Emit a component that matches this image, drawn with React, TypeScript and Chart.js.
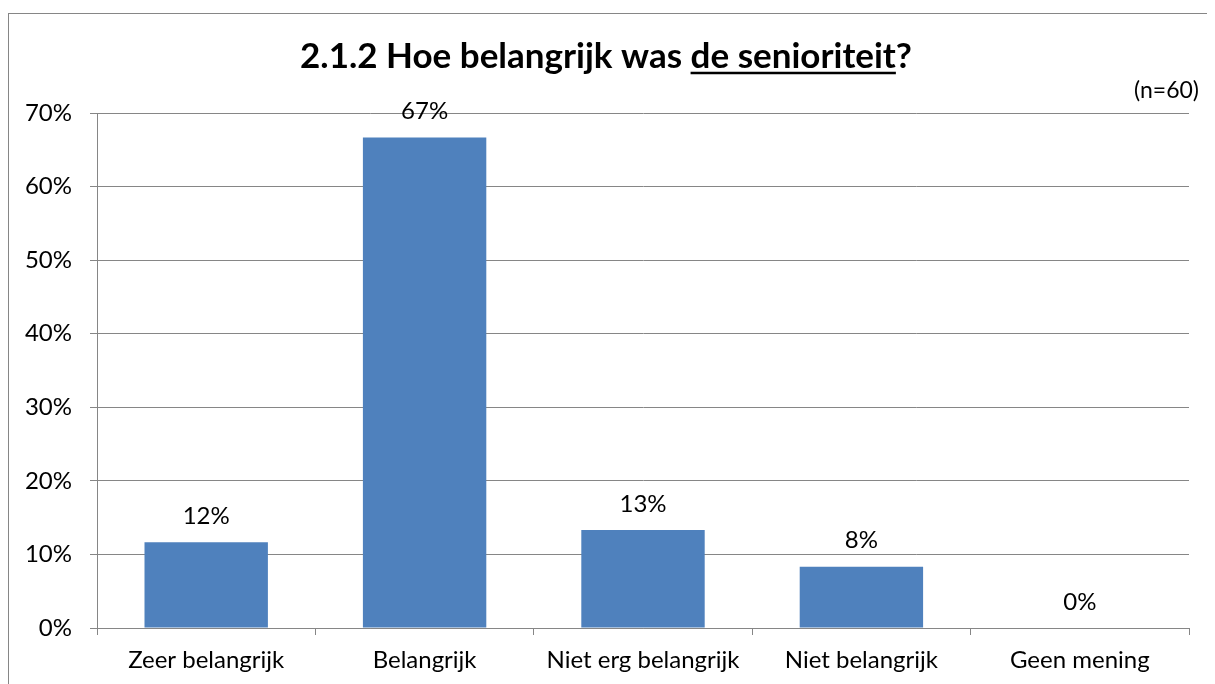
import React, { useEffect, useRef } from "react";
import { Chart, registerables } from "chart.js";

Chart.register(...registerables);

const categories = ["Zeer belangrijk", "Belangrijk", "Niet erg belangrijk", "Niet belangrijk", "Geen mening"];
const values = [11.67, 66.67, 13.33, 8.33, 0];
const valueLabels = ["12%", "67%", "13%", "8%", "0%"];
const yTicks = [0, 10, 20, 30, 40, 50, 60, 70];
const titleParts = ["2.1.2 Hoe belangrijk was ", "de senioriteit", "?"];
const sampleNote = "(n=60)";

const FONT = "Lato, 'Open Sans', sans-serif";
const GRID = "#868686";

const overlayPlugin = {
  id: "overlay",
  afterDatasetsDraw(chart: any) {
    const ctx = chart.ctx;
    const meta = chart.getDatasetMeta(0);
    ctx.save();
    ctx.fillStyle = "#000";
    ctx.font = `24px ${FONT}`;
    ctx.textAlign = "center";
    ctx.textBaseline = "middle";
    meta.data.forEach((bar: any, i: number) => {
      ctx.fillText(valueLabels[i], bar.x, bar.y - 26);
    });
    ctx.restore();
  },
  afterDraw(chart: any) {
    const ctx = chart.ctx;
    ctx.save();
    ctx.fillStyle = "#000";
    ctx.strokeStyle = "#000";
    ctx.font = `bold 35px ${FONT}`;
    ctx.textBaseline = "alphabetic";
    ctx.textAlign = "left";
    const widths = titleParts.map((t) => ctx.measureText(t).width);
    const total = widths.reduce((a, b) => a + b, 0);
    let x = chart.width / 2 - 6 - total / 2;
    const y = 54;
    titleParts.forEach((t, i) => {
      ctx.fillText(t, x, y);
      if (i === 1) {
        ctx.lineWidth = 2.5;
        ctx.beginPath();
        ctx.moveTo(x, y + 5);
        ctx.lineTo(x + widths[i], y + 5);
        ctx.stroke();
      }
      x += widths[i];
    });
    ctx.font = `23px ${FONT}`;
    ctx.textAlign = "right";
    ctx.textBaseline = "middle";
    ctx.fillText(sampleNote, chart.width - 16, 77);
    ctx.restore();
  },
};

export default function App() {
  const ref = useRef<HTMLCanvasElement | null>(null);
  useEffect(() => {
    if (!ref.current) return;
    const chart = new Chart(ref.current, {
      type: "bar",
      data: {
        labels: categories,
        datasets: [
          {
            data: values,
            backgroundColor: "#4F81BD",
            borderWidth: 0,
            barPercentage: 0.565,
            categoryPercentage: 1,
          },
        ],
      },
      options: {
        animation: false,
        responsive: false,
        maintainAspectRatio: false,
        layout: { padding: { top: 99, right: 26, left: 0, bottom: 0 } },
        plugins: { legend: { display: false }, tooltip: { enabled: false }, title: { display: false } },
        scales: {
          x: {
            offset: true,
            grid: { display: true, drawOnChartArea: false, drawTicks: true, tickLength: 7, color: GRID, offset: true },
            border: { display: true, color: GRID, width: 1 },
            ticks: { color: "#000", font: { family: FONT, size: 24 }, padding: 11, maxRotation: 0, autoSkip: false },
            afterFit: (s: any) => {
              s.height = 56;
            },
          },
          y: {
            min: 0,
            max: 70,
            afterBuildTicks: (s: any) => {
              s.ticks = yTicks.map((v) => ({ value: v }));
            },
            grid: { color: GRID, tickLength: 7, drawTicks: true },
            border: { display: true, color: GRID, width: 1 },
            ticks: {
              color: "#000",
              font: { family: FONT, size: 24 },
              padding: 18,
              callback: (v: any) => `${v}%`,
            },
            afterFit: (s: any) => {
              s.width = 88;
            },
          },
        },
      },
      plugins: [overlayPlugin],
    });
    return () => chart.destroy();
  }, []);

  return (
    <div style={{ position: "relative", width: 1207, height: 676, overflow: "hidden" }}>
      <div
        style={{
          position: "absolute",
          left: 0,
          top: 5,
          width: 1230,
          height: 700,
          border: "1px solid #868686",
          boxSizing: "border-box",
          background: "#fff",
        }}
      >
        <canvas ref={ref} width={1206} height={670} style={{ position: "absolute", left: 0, top: 0, display: "block" }} />
      </div>
    </div>
  );
}
